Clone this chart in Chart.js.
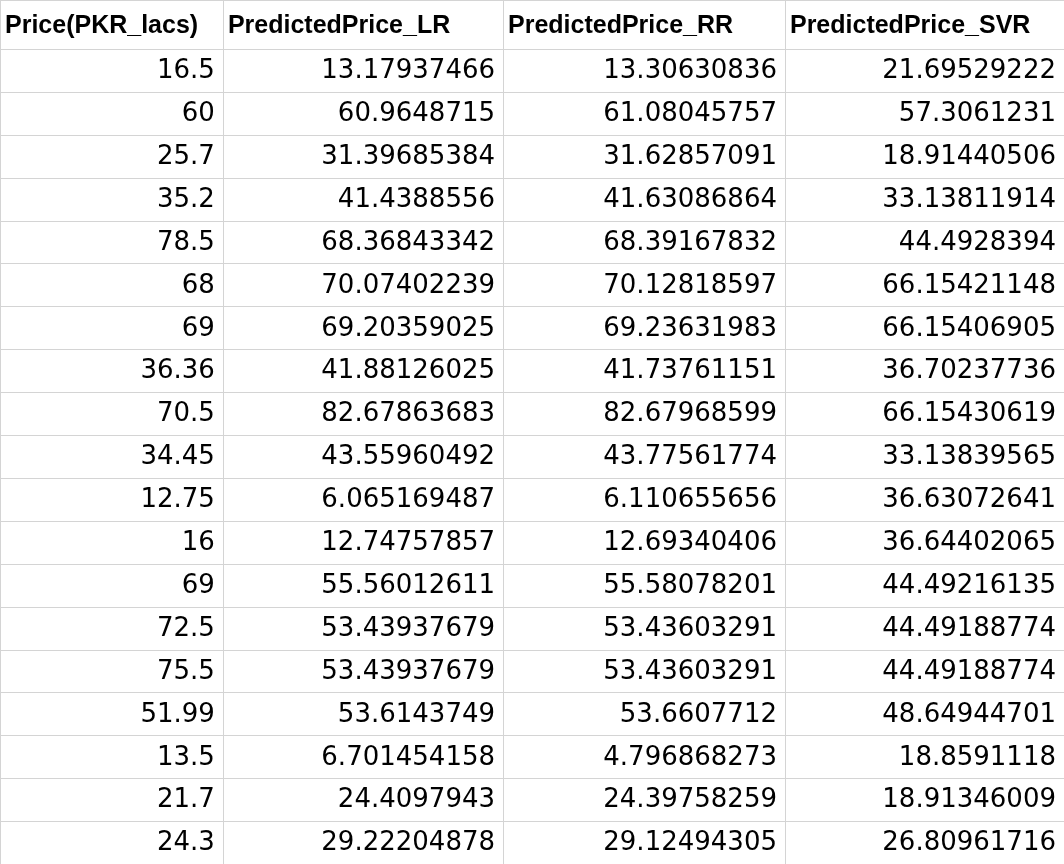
<!DOCTYPE html>
<html><head><meta charset="utf-8">
<script src="https://cdn.jsdelivr.net/npm/chart.js@4/dist/chart.umd.min.js"></script>
<style>html,body{margin:0;padding:0;background:#fff}#w{width:1064px;height:864px}</style>
</head><body><div id="w"><canvas id="c"></canvas></div>
<script>
const headers = ["Price(PKR_lacs)","PredictedPrice_LR","PredictedPrice_RR","PredictedPrice_SVR"];
const price = ["16.5","60","25.7","35.2","78.5","68","69","36.36","70.5","34.45","12.75","16","69","72.5","75.5","51.99","13.5","21.7","24.3"];
const predLR = ["13.17937466","60.9648715","31.39685384","41.4388556","68.36843342","70.07402239","69.20359025","41.88126025","82.67863683","43.55960492","6.065169487","12.74757857","55.56012611","53.43937679","53.43937679","53.6143749","6.701454158","24.4097943","29.22204878"];
const predRR = ["13.30630836","61.08045757","31.62857091","41.63086864","68.39167832","70.12818597","69.23631983","41.73761151","82.67968599","43.77561774","6.110655656","12.69340406","55.58078201","53.43603291","53.43603291","53.6607712","4.796868273","24.39758259","29.12494305"];
const predSVR = ["21.69529222","57.3061231","18.91440506","33.13811914","44.4928394","66.15421148","66.15406905","36.70237736","66.15430619","33.13839565","36.63072641","36.64402065","44.49216135","44.49188774","44.49188774","48.64944701","18.8591118","18.91346009","26.80961716"];
const columns = [price, predLR, predRR, predSVR];

// layout (not data): column edges in x-scale units
const colEdges = [0, 0.838, 1.891, 2.951, 4];

const datasets = columns.map((col, ci) => ({
  label: headers[ci],
  data: col.map((v, ri) => ({x: ci, y: ri, t: v})),
  pointRadius: 0, showLine: false
}));

const tablePlugin = {
  id: 'table',
  afterDatasetsDraw(chart) {
    const {ctx, scales: {x, y}} = chart;
    ctx.save();
    ctx.strokeStyle = '#d4d4d4'; ctx.lineWidth = 1;
    // vertical lines
    colEdges.forEach(e => {
      const px = Math.round(x.getPixelForValue(e)) + 0.5;
      ctx.beginPath(); ctx.moveTo(px, y.getPixelForValue(y.min)); ctx.lineTo(px, y.getPixelForValue(y.max)); ctx.stroke();
    });
    for (let r = 0; r <= price.length; r++) {
      const py = Math.round(y.getPixelForValue(r)) + 0.5;
      ctx.beginPath(); ctx.moveTo(0, py); ctx.lineTo(chart.width, py); ctx.stroke();
    }
    ctx.beginPath(); ctx.moveTo(0, 0.5); ctx.lineTo(chart.width, 0.5); ctx.stroke();
    // headers
    ctx.fillStyle = '#000'; ctx.textBaseline = 'middle'; ctx.textAlign = 'left';
    ctx.font = 'bold 25px "Liberation Sans", Arial, sans-serif';
    const hy = (y.getPixelForValue(y.min) + y.getPixelForValue(0)) / 2 + 2;
    headers.forEach((h, i) => {
      const l = x.getPixelForValue(colEdges[i]) + 5;
      const w = x.getPixelForValue(colEdges[i+1]) - l - 4;
      const m = ctx.measureText(h).width;
      ctx.save(); ctx.translate(l, hy); if (m > w) ctx.scale(w / m, 1);
      ctx.fillText(h, 0, 0); ctx.restore();
    });
    // cells
    ctx.font = '26px "DejaVu Sans", sans-serif'; ctx.textAlign = 'right';
    chart.data.datasets.forEach((ds, ci) => {
      ds.data.forEach(p => {
        const rx = x.getPixelForValue(colEdges[ci + 1]) - 8;
        const cy = y.getPixelForValue(p.y + 0.5) + 1;
        ctx.fillText(p.t, rx, cy);
      });
    });
    ctx.restore();
  }
};

new Chart(document.getElementById('c'), {
  type: 'scatter',
  data: {datasets},
  plugins: [tablePlugin],
  options: {
    responsive: true, maintainAspectRatio: false, animation: false,
    layout: {padding: 0},
    plugins: {legend: {display: false}, tooltip: {enabled: false}},
    scales: {
      x: {type: 'linear', min: 0, max: 4, display: false},
      y: {type: 'linear', min: -1.14, max: 19, reverse: true, display: false}
    }
  }
});
</script></body></html>
